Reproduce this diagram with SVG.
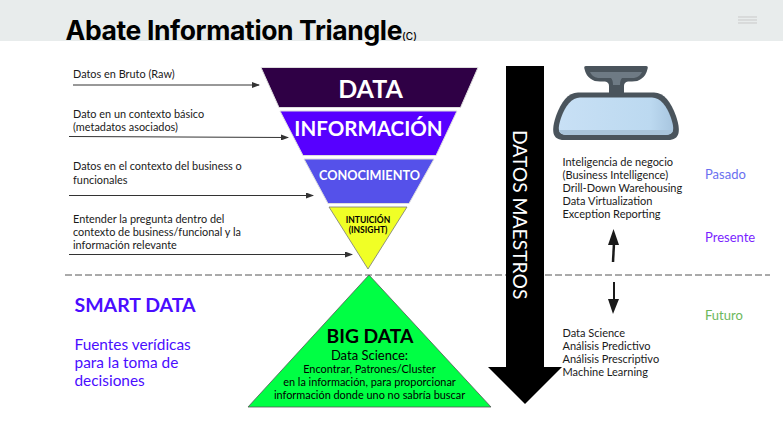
<svg xmlns="http://www.w3.org/2000/svg" width="783" height="443" viewBox="0 0 783 443">
<defs>
<style>
text{font-family:Lato,"Open Sans","Liberation Sans",sans-serif}
.s{font-size:11px;fill:#1a1a1a}
.l{font-size:10.900px;fill:#1a1a1a}
.g{fill:#fff;text-anchor:middle}
.c{fill:#000;text-anchor:middle}
.p{fill:#4a0dff}
.conn{stroke:#333;stroke-width:1;fill:none;marker-end:url(#a)}
.edge{stroke:#ddd;stroke-width:1}
</style>
<marker id="a" markerUnits="userSpaceOnUse" markerWidth="8" markerHeight="6" refX="7" refY="3" orient="auto"><path d="M0 0L8 3L0 6z" fill="#333"/></marker>
<linearGradient id="gl" x1="0" y1="0" x2="1" y2="0"><stop offset="0" stop-color="#c8e0f5"/><stop offset=".8" stop-color="#bcd9f0"/><stop offset="1" stop-color="#a8c6e0"/></linearGradient>
</defs>
<rect width="783" height="443" fill="#fff"/>
<rect width="783" height="41" fill="#e8ecec"/>
<g id="menu" stroke="#c9c9c9" stroke-width="1"><path d="M738 17H757M738 20H757M738 23H757"/></g>
<g id="title"><text x="65.500" y="39.500" font-size="26.500" font-weight="700" fill="#000" style="font-family:Inter,Lato,sans-serif;letter-spacing:-.37px">Abate Information Triangle<tspan font-size="10" font-weight="500" style="letter-spacing:0">(C)</tspan></text></g>

<g id="connectors">
<path class="conn" d="M73 85H259"/>
<path class="conn" d="M69 136.500L288 137.500"/>
<path class="conn" d="M69 195.500H313"/>
<path class="conn" d="M69 254.500H352"/>
<path d="M65 275H770" stroke="#555" stroke-width="1" stroke-dasharray="7 3" fill="none"/>
<path d="M613 262L614 243" stroke="#1a1a1a" stroke-width="2.500" fill="none"/>
<path d="M613.500 229L619 245H608z" fill="#1a1a1a"/>
<path d="M614 282V300" stroke="#1a1a1a" stroke-width="2" fill="none"/>
<path d="M613 314L608 299H619z" fill="#1a1a1a"/>
</g>

<g id="labels-left">
<text class="l" x="73" y="78">Datos en Bruto (Raw)</text>
<text class="l" x="73" y="118">Dato en un contexto básico</text>
<text class="l" x="73" y="131">(metadatos asociados)</text>
<text class="l" x="73" y="170">Datos en el contexto del business o</text>
<text class="l" x="73" y="184">funcionales</text>
<text class="l" x="73" y="223">Entender la pregunta dentro del</text>
<text class="l" x="73" y="236">contexto de business/funcional y la</text>
<text class="l" x="73" y="249">información relevante</text>
</g>

<g id="node-data"><path class="edge" d="M261 67.500H478L460.500 107.500H279z" fill="#2f0045"/><text class="g" x="370.500" y="98" font-size="25" font-weight="700">DATA</text></g>
<g id="node-informacion"><path class="edge" d="M280 111H457L436 155.500H303z" fill="#5700ff"/><text class="g" x="368.500" y="135.500" font-size="20.500" font-weight="700">INFORMACIÓN</text></g>
<g id="node-conocimiento"><path class="edge" d="M304 159H434L409 203.500H328z" fill="#5551ea"/><text class="g" x="369.500" y="180" font-size="12.700" font-weight="700">CONOCIMIENTO</text></g>
<g id="node-intuicion"><path d="M329 207H407L368 269z" fill="#f0ff26" stroke="#777" stroke-width=".8"/><text class="c" x="368" y="223" font-size="8.500" font-weight="700">INTUICIÓN</text><text class="c" x="368" y="233" font-size="8.500" font-weight="700">(INSIGHT)</text></g>
<g id="node-bigdata"><path d="M369 275L491 407H248z" fill="#00ff44" stroke="#555" stroke-width=".8"/>
<text class="c" x="370" y="343" font-size="19.300" font-weight="700">BIG DATA</text>
<text class="c" x="369.500" y="360" font-size="13">Data Science:</text>
<text class="c" x="369.500" y="373" font-size="10.900">Encontrar, Patrones/Cluster</text>
<text class="c" x="369.500" y="386" font-size="10.900">en la información, para proporcionar</text>
<text class="c" x="369.500" y="399" font-size="10.900">información donde uno no sabría buscar</text></g>

<g id="node-maestros"><path d="M506 66H544V367H562L525 404L488 367H506z" fill="#000"/>
<text transform="translate(513,130) rotate(90)" font-size="19.300" fill="#fff">DATOS MAESTROS</text></g>

<g id="node-mirror">
<path d="M586 66H646Q648.500 66 647.500 69Q646 76 641 79Q638 81.500 632 81.500H628Q624 82 624 86V93H609V86Q609 82 605 81.500H600Q594 81.500 591 79Q586 76 584.500 69Q583.500 66 586 66z" fill="#4a545c"/>
<path d="M590 72H642Q640 77 634 78H622Q620 80 620 85H613Q613 80 611 78H598Q592 77 590 72z" fill="#6e7a84"/>
<path d="M578 92.500H654C664 92.500 671 102 676 116C681 131 680 140 668 140H564C552 140 551 131 556 116C561 102 568 92.500 578 92.500z" fill="#4a545c"/>
<path d="M580 97.500H652C660 97.500 667 106 671 118C675 130 674 135 664 135H568C558 135 557 130 561 118C565 106 572 97.500 580 97.500z" fill="url(#gl)"/>
<path d="M559 130H673Q673 135 664 135H568Q559 135 559 130z" fill="#a9c4da"/>
</g>

<g id="labels-right">
<text class="s" x="562.500" y="166">Inteligencia de negocio</text>
<text class="s" x="562.500" y="179">(Business Intelligence)</text>
<text class="s" x="562.500" y="192">Drill-Down Warehousing</text>
<text class="s" x="562.500" y="205">Data Virtualization</text>
<text class="s" x="562.500" y="218">Exception Reporting</text>
<text class="s" x="562.500" y="337">Data Science</text>
<text class="s" x="562.500" y="350">Análisis Predictivo</text>
<text class="s" x="562.500" y="363">Análisis Prescriptivo</text>
<text class="s" x="562.500" y="376">Machine Learning</text>
<text x="705" y="179" font-size="13" fill="#6a70f0">Pasado</text>
<text x="705" y="242" font-size="13" fill="#7a1fff">Presente</text>
<text x="705" y="320" font-size="13" fill="#6cb85c">Futuro</text>
</g>

<g id="smart">
<text class="p" x="74.500" y="312" font-size="19.500" font-weight="700">SMART DATA</text>
<text class="p" x="74.500" y="350" font-size="15.400">Fuentes verídicas</text>
<text class="p" x="74.500" y="368" font-size="15.400">para la toma de</text>
<text class="p" x="74.500" y="386" font-size="15.400">decisiones</text>
</g>
</svg>
